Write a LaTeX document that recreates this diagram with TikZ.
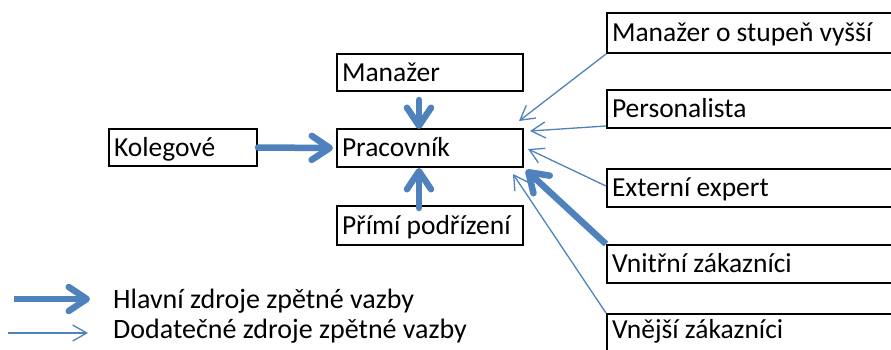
\documentclass[tikz,border=0pt]{standalone}
\usepackage{fontspec}
\setmainfont{Carlito}
\usetikzlibrary{arrows.meta}
\definecolor{arrblue}{RGB}{79,129,189}
\begin{document}
\begin{tikzpicture}[x=1pt,y=1pt,
  box/.style={draw=black, line width=2pt, inner ysep=0pt, inner xsep=5pt,
    align=flush left, text height=17pt, text depth=0pt, minimum height=37pt,
    anchor=north west, font=\fontsize{27.5}{31}\selectfont},
  mainarr/.style={draw=arrblue, line width=6.5pt, line cap=round,
    -{Straight Barb[length=18pt, width=24pt, round]}},
  sidearr/.style={draw=arrblue, line width=1.3pt,
    -{Straight Barb[length=14pt, width=16pt]}},
  legtext/.style={anchor=base west, inner sep=0pt, font=\fontsize{28}{32}\selectfont}
]
\useasboundingbox (0,0) rectangle (891,-349);
\clip (0,0) rectangle (891,-349);
% central column
\node[box, text width=176pt] (man) at (336,-53) {Manažer};
\node[box, text width=176pt, minimum height=38pt] (prac) at (336,-128) {Pracovník};
\node[box, text width=176pt, minimum height=39pt] (prim) at (336,-205) {Přímí podřízení};
\node[box, text width=138pt] (kol) at (108,-128) {Kolegové};
% right column
\node[box, text width=290pt, minimum height=40pt] (mv) at (606,-12) {Manažer o stupeň vyšší};
\node[box, text width=290pt, minimum height=38pt] (pers) at (606,-89) {Personalista};
\node[box, text width=290pt, minimum height=38pt] (ext) at (606,-168) {Externí expert};
\node[box, text width=290pt, minimum height=38pt] (vnit) at (606,-244) {Vnitřní zákazníci};
\node[box, text width=290pt, minimum height=47pt, text depth=15pt] (vnej) at (606,-313) {Vnější zákazníci};
% main arrows
\draw[mainarr] ([shift={(-11,-8)}]man.south) -- ([shift={(-11,-1)}]prac.north);
\draw[mainarr] ([shift={(-11,-3)}]prim.north) -- ([shift={(-11,0)}]prac.south);
\draw[mainarr] ([shift={(0,0)}]kol.east) -- ([shift={(-3,0)}]prac.west);
\draw[mainarr, line cap=butt] (vnit.north west) -- ([shift={(2,-2)}]prac.south east);
% side arrows
\draw[sidearr] (mv.south west) -- ([shift={(-5,7)}]prac.north east);
\draw[sidearr] ([shift={(0,-17)}]pers.west) -- ([shift={(6,-3)}]prac.north east);
\draw[sidearr] ([shift={(0,2)}]ext.west) -- ([shift={(4,-1)}]prac.east);
\draw[sidearr] (vnej.north west) -- ([shift={(-11,-6)}]prac.south east);
% legend
\coordinate (l1a) at (14,-299);
\coordinate (l1b) at (90,-299);
\coordinate (l2a) at (8,-333);
\coordinate (l2b) at (88,-333);
\draw[mainarr, line cap=butt] (l1a) -- (l1b);
\draw[sidearr] (l2a) -- (l2b);
\node[legtext] (lt1) at (113,-308) {Hlavní zdroje zpětné vazby};
\node[legtext] (lt2) at (113,-338) {Dodatečné zdroje zpětné vazby};
\end{tikzpicture}
\end{document}
